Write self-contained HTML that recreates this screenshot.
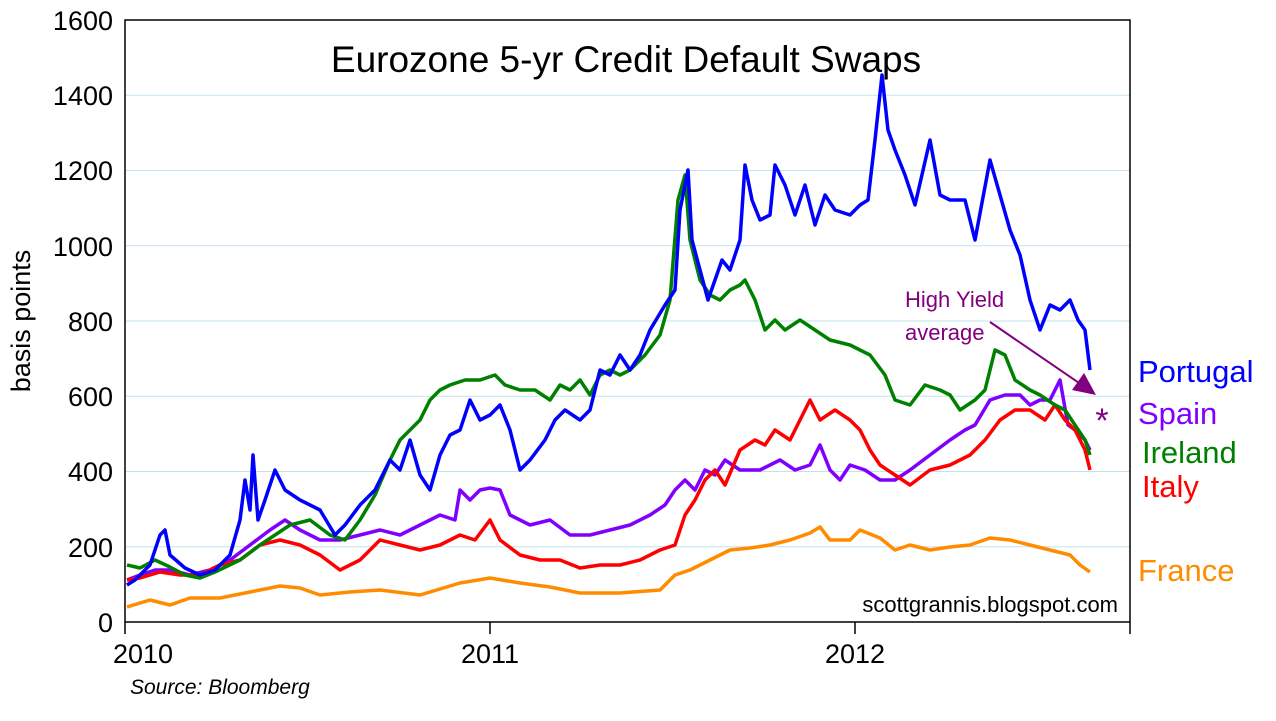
<!DOCTYPE html>
<html><head><meta charset="utf-8"><style>
body{margin:0;background:#fff}
svg text{font-family:"Liberation Sans",sans-serif}
</style></head><body>
<svg width="1276" height="716" viewBox="0 0 1276 716" xmlns="http://www.w3.org/2000/svg">
<rect width="1276" height="716" fill="#fff"/>
<g stroke="#bfe3ef" stroke-width="1">
<line x1="125" x2="1130" y1="546.75" y2="546.75"/><line x1="125" x2="1130" y1="471.5" y2="471.5"/>
<line x1="125" x2="1130" y1="396.25" y2="396.25"/><line x1="125" x2="1130" y1="321" y2="321"/>
<line x1="125" x2="1130" y1="245.75" y2="245.75"/><line x1="125" x2="1130" y1="170.5" y2="170.5"/>
<line x1="125" x2="1130" y1="95.25" y2="95.25"/>
</g>
<rect x="125" y="20" width="1005" height="602" fill="none" stroke="#000" stroke-width="1.5"/>
<g stroke="#000" stroke-width="1.5">
<line x1="125" x2="125" y1="622" y2="634"/><line x1="490" x2="490" y1="622" y2="634"/><line x1="855" x2="855" y1="622" y2="634"/><line x1="1130" x2="1130" y1="622" y2="634"/>
</g>
<g font-size="27" text-anchor="end" fill="#000">
<text x="113" y="632">0</text><text x="113" y="557">200</text><text x="113" y="481">400</text><text x="113" y="406">600</text><text x="113" y="331">800</text><text x="113" y="256">1000</text><text x="113" y="180">1200</text><text x="113" y="105">1400</text><text x="113" y="30">1600</text>
</g>
<g font-size="27" text-anchor="middle"><text x="143" y="663">2010</text><text x="490" y="663">2011</text><text x="855" y="663">2012</text></g>
<text x="30" y="321" font-size="27" transform="rotate(-90 30 321)" text-anchor="middle">basis points</text>
<text x="626" y="72" font-size="37" text-anchor="middle">Eurozone 5-yr Credit Default Swaps</text>
<text x="130" y="694" font-size="21" font-style="italic">Source: Bloomberg</text>
<text x="1118" y="612" font-size="22" text-anchor="end">scottgrannis.blogspot.com</text>
<g fill="none" stroke-width="3.5" stroke-linejoin="round">
<polyline stroke="#ff8c00" points="127,607 150,600 170,605 190,598 220,598 250,592 280,586 300,588 320,595 350,592 380,590 420,595 460,583 490,578 520,583 550,587 580,593 620,593 660,590 675,575 690,570 710,560 730,550 750,548 770,545 790,540 810,533 820,527 830,540 850,540 860,530 880,538 895,550 910,545 930,550 950,547 970,545 990,538 1010,540 1030,545 1050,550 1070,555 1080,565 1090,572"/>
<polyline stroke="#8000ff" points="127,580 140,575 155,570 170,570 190,575 210,570 230,560 250,545 270,530 285,520 300,530 320,540 340,540 360,535 380,530 400,535 420,525 440,515 455,520 460,490 470,500 480,490 490,488 500,490 510,515 530,525 550,520 570,535 590,535 610,530 630,525 650,515 665,505 675,490 685,480 695,490 705,470 715,475 725,460 740,470 760,470 780,460 795,470 810,465 820,445 830,470 840,480 850,465 865,470 880,480 895,480 910,470 930,455 950,440 965,430 975,425 990,400 1005,395 1020,395 1030,405 1040,400 1050,400 1060,380 1068,425 1075,430 1085,440 1090,450"/>
<polyline stroke="#ff0000" points="127,580 140,578 160,572 180,575 200,575 220,565 240,560 260,545 280,540 300,545 320,555 340,570 360,560 380,540 400,545 420,550 440,545 460,535 475,540 490,520 500,540 520,555 540,560 560,560 580,568 600,565 620,565 640,560 660,550 675,545 685,515 695,500 705,480 715,470 725,485 740,450 755,440 765,445 775,430 790,440 800,420 810,400 820,420 835,410 850,420 860,430 870,450 880,465 895,475 910,485 930,470 950,465 970,455 985,440 1000,420 1015,410 1030,410 1045,420 1055,405 1065,420 1075,430 1085,450 1090,470"/>
<polyline stroke="#008000" points="127,565 140,568 155,560 170,567 185,575 200,578 215,572 240,560 260,545 275,535 290,525 310,520 330,535 345,540 360,520 375,495 390,460 400,440 410,430 420,420 430,400 440,390 450,385 465,380 480,380 495,375 505,385 520,390 535,390 550,400 560,385 570,390 580,380 590,395 600,375 610,370 620,375 630,370 645,355 660,335 670,300 678,200 685,175 690,240 700,280 710,295 720,300 730,290 740,285 745,280 755,300 765,330 775,320 785,330 800,320 815,330 830,340 850,345 870,355 885,375 895,400 910,405 925,385 940,390 950,395 960,410 975,400 985,390 995,350 1005,355 1015,380 1030,390 1040,395 1055,405 1065,410 1075,425 1085,440 1090,455"/>
<polyline stroke="#0000ff" points="127,585 135,580 150,565 160,535 165,530 170,555 185,568 200,575 215,570 230,555 240,520 245,480 250,510 253,455 258,520 265,500 275,470 285,490 300,500 320,510 335,535 345,525 360,505 375,490 390,460 400,470 410,440 420,475 430,490 440,455 450,435 460,430 470,400 480,420 490,415 500,405 510,430 520,470 530,460 545,440 555,420 565,410 580,420 590,410 600,370 610,375 620,355 630,370 640,355 650,330 665,305 675,290 680,210 688,170 692,240 700,270 708,300 715,280 722,260 730,270 740,240 745,165 752,200 760,220 770,215 775,165 785,185 795,215 805,185 815,225 825,195 835,210 850,215 860,205 868,200 875,140 882,75 888,130 895,150 905,175 915,205 930,140 940,195 950,200 965,200 975,240 990,160 1000,195 1010,230 1020,255 1030,300 1040,330 1050,305 1060,310 1070,300 1078,320 1085,330 1090,370"/>
</g>
<text x="905" y="307" font-size="22" fill="#800080">High Yield</text>
<text x="905" y="340" font-size="22" fill="#800080">average</text>
<line x1="990" y1="322" x2="1082" y2="385" stroke="#800080" stroke-width="2"/>
<polygon points="1096,395 1072,390 1084,373" fill="#800080"/>
<text x="1102" y="432" font-size="34" fill="#800080" text-anchor="middle">*</text>
<g font-size="31">
<text x="1138" y="382" fill="#0000ff">Portugal</text>
<text x="1138" y="424" fill="#8000ff">Spain</text>
<text x="1142" y="463" fill="#008000">Ireland</text>
<text x="1142" y="497" fill="#ff0000">Italy</text>
<text x="1138" y="581" fill="#ff8c00">France</text>
</g>
</svg>
</body></html>
